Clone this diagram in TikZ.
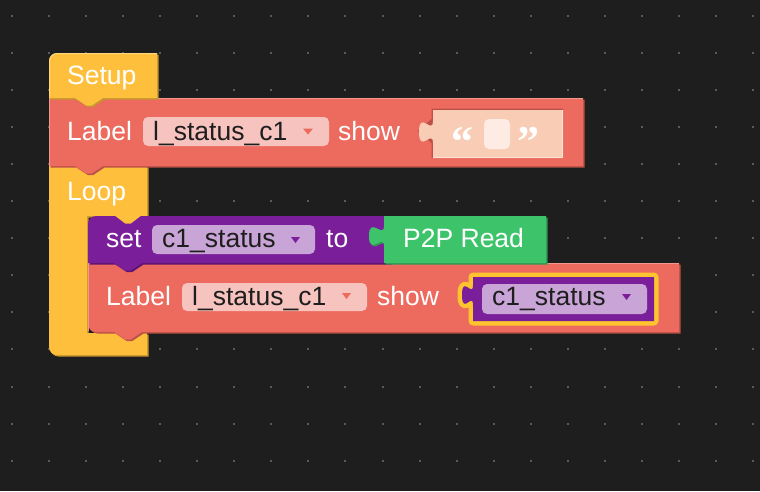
\documentclass[tikz,border=0pt]{standalone}
\usepackage{fontspec}
\setmainfont{Liberation Sans}
\newfontfamily\quotefont{Liberation Serif}
\definecolor{bgc}{HTML}{1E1E1E}
\definecolor{dotc}{HTML}{5A5A5A}
\definecolor{yel}{HTML}{FEC03C}
\definecolor{yeldark}{HTML}{C8962E}
\definecolor{yellight}{HTML}{FFD77F}
\definecolor{redc}{HTML}{EC6A5E}
\definecolor{reddark}{HTML}{BC5148}
\definecolor{redlight}{HTML}{F3988F}
\definecolor{redpill}{HTML}{F7C3BE}
\definecolor{peach}{HTML}{F9CDB5}
\definecolor{peachlight}{HTML}{FCE0D0}
\definecolor{wbox}{HTML}{FDEBE4}
\definecolor{purp}{HTML}{7A1E99}
\definecolor{purpdark}{HTML}{5C1474}
\definecolor{purppill}{HTML}{C9A4D6}
\definecolor{grn}{HTML}{3DC46B}
\definecolor{grndark}{HTML}{2E9A53}
\definecolor{hl}{HTML}{FEC42F}
\definecolor{fldtext}{HTML}{1E1E1E}
\tikzset{
  blk/.style 2 args={fill=#1, preaction={fill=#2, transform canvas={xshift=1.5pt,yshift=-1.5pt}}},
  lbl/.style={text=white, font=\fontsize{26.5}{30}\selectfont, inner sep=0pt, anchor=base west},
  fld/.style={text=fldtext, font=\fontsize{26.5}{30}\selectfont, inner sep=0pt, anchor=base west},
  qt/.style={text=white, font=\quotefont\bfseries\fontsize{44}{46}\selectfont, inner sep=0pt, anchor=base west},
  pill/.style={rounded corners=5pt},
}
\begin{document}
\begin{tikzpicture}[x=1pt,y=-1pt]
\fill[bgc] (0,0) rectangle (760,491);
\useasboundingbox (0,0) rectangle (760,491);
% grid dots
\foreach \i in {0,...,20}{
  \foreach \j in {0,...,12}{
    \fill[dotc] ({12+37.05*\i-1},{16+37.05*\j-1}) rectangle ({12+37.05*\i+1},{16+37.05*\j+1});
  }
}
% Loop block (C shape)
\fill[blk={yel}{yeldark}] (49,166) -- (147,166) -- (147,216) -- (87,216) -- (87,333) -- (147,333) -- (147,355) -- (57,355) .. controls (52.6,355) and (49,351.4) .. (49,347) -- cycle;
% inner Label block
\fill[blk={redc}{reddark}] (88,263) -- (679,263) -- (679,332) -- (142,332) -- (130.8,339.5) -- (125.2,339.5) -- (114,332) -- (96,332) .. controls (91.6,332) and (88,328.4) .. (88,324) -- cycle;
\draw[redlight, line width=1pt] (88.5,331) -- (88.5,263.5) -- (679,263.5);
% set block
\fill[blk={purp}{purpdark}] (88,224) .. controls (88,219.6) and (91.6,216) .. (96,216) -- (390,216) -- (390,263) -- (142,263) -- (130.8,270.5) -- (125.2,270.5) -- (114,263) -- (88,263) -- cycle;
% loop inner tab
\fill[yel] (114,215) -- (142,215) -- (130.8,223.5) -- (125.2,223.5) -- cycle;
% P2P Read block
\fill[blk={grn}{grndark}] (384,216) -- (546,216) -- (546,263) -- (384,263) -- (384,246) .. controls (384,232.7) and (369,256.7) .. (369,236) .. controls (369,215.3) and (384,239.3) .. (384,226) -- cycle;
% outer Label block
\fill[blk={redc}{reddark}] (49,98) -- (583,98) -- (583,166) -- (103,166) -- (91.8,173.5) -- (86.2,173.5) -- (75,166) -- (49,166) -- cycle;
\draw[redlight, line width=1pt] (49.5,166) -- (49.5,98.5) -- (583,98.5);
% Setup block
\fill[blk={yel}{yeldark}] (49,98) -- (49,61) .. controls (49,56.6) and (52.6,53) .. (57,53) -- (157,53) -- (157,98) -- (103,98) -- (91.8,105.5) -- (86.2,105.5) -- (75,98) -- cycle;
\draw[yellight, line width=1pt] (49.5,97) -- (49.5,61) .. controls (49.5,57) and (53,53.5) .. (57,53.5) -- (157,53.5);
% empty text socket
\fill[reddark] (431.5,108.5) -- (563,108.5) -- (563,158) -- (431.5,158) -- (431.5,143) -- (417.5,131) -- (431.5,119) -- cycle;
\fill[peach] (433,110) -- (563,110) -- (563,158) -- (433,158) -- (433,143) .. controls (433,128.3) and (419,154.7) .. (419,132) .. controls (419,109.3) and (433,135.7) .. (433,121) -- cycle;
\draw[peachlight, line width=1pt] (433,157.5) -- (562.5,157.5) -- (562.5,110);
\fill[wbox, rounded corners=5pt] (484,119) rectangle (510,149);
\node[qt] (q1) at (451,156) {“};
\node[qt] (q2) at (517,156) {”};
% fields
\fill[redpill, pill] (143,117) rectangle (329,146);
\fill[redc] (303,128.5) -- (313,128.5) -- (308,134.5) -- cycle;
\fill[purppill, pill] (152,225) rectangle (315,254);
\fill[purp] (291,237) -- (300,237) -- (295.5,243) -- cycle;
\fill[redpill, pill] (182,283) rectangle (367,311);
\fill[redc] (342,293) -- (351,293) -- (346.5,299) -- cycle;
% highlighted variable block
\draw[hl, line width=9pt, line join=round] (473,277) -- (654,277) -- (654,321) -- (473,321) -- (473,305) .. controls (473,291.7) and (462,315.7) .. (462,295) .. controls (462,274.3) and (473,298.3) .. (473,285) -- cycle;
\fill[purp] (473,277) -- (654,277) -- (654,321) -- (473,321) -- (473,305) .. controls (473,291.7) and (462,315.7) .. (462,295) .. controls (462,274.3) and (473,298.3) .. (473,285) -- cycle;
\fill[purppill, pill] (482,284) rectangle (647,314);
\fill[purp] (622,294) -- (631,294) -- (626.5,300) -- cycle;
% texts
\node[lbl] (setupT) at (67,84) {Setup};
\node[lbl] (label1) at (67,140) {Label};
\node[fld] (fld1) at (153,140) {l\_status\_c1};
\node[lbl] (show1) at (338,140) {show};
\node[lbl] (loopT) at (67,200) {Loop};
\node[lbl] (setT) at (106,247) {set};
\node[fld] (fld2) at (162,247) {c1\_status};
\node[lbl] (toT) at (326,247) {to};
\node[lbl] (p2p) at (403,247) {P2P Read};
\node[lbl] (label2) at (106,305) {Label};
\node[fld] (fld3) at (192,305) {l\_status\_c1};
\node[lbl] (show2) at (377,305) {show};
\node[fld] (fld4) at (492,305) {c1\_status};
\end{tikzpicture}
\end{document}
